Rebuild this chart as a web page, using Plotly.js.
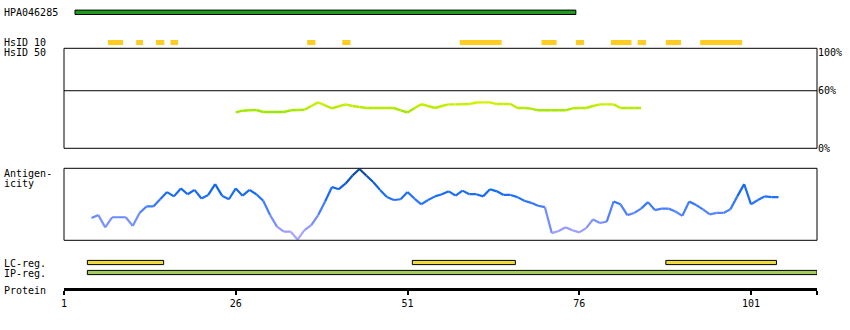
<!DOCTYPE html>
<html><head><meta charset="utf-8">
<script src="https://cdn.plot.ly/plotly-3.0.1.min.js"></script>
<style>html,body{margin:0;padding:0;background:#fff}#chart{width:850px;height:330px}</style>
</head><body><div id="chart"></div>
<script>
// ---------- data ----------
const axisEnd = 110.6;
const tickValues = [1, 26, 51, 76, 101];
const tickLabels = ['1', '26', '51', '76', '101'];

const antigenName = 'HPA046285';
const antigenStart = [2.6];
const antigenEnd = [75.5];

const hsid10Start = [7.4, 11.5, 14.4, 16.5, 36.4, 41.5, 58.6, 70.5, 75.5, 80.6, 84.5, 88.6, 93.6];
const hsid10End   = [9.6, 12.5, 15.6, 17.6, 37.6, 42.7, 64.7, 72.7, 76.7, 83.6, 85.7, 90.8, 99.7];

const hsid50Residue = [26,27,28,29,30,31,32,33,34,35,36,37,38,39,40,41,42,43,44,45,46,47,48,49,50,
  51,52,53,54,55,56,57,58,59,60,61,62,63,64,65,66,67,68,69,70,71,72,73,74,75,76,77,78,79,80,81,82,83,84,85];
const hsid50Value = [37.5,39.2,39.6,39.9,37.8,37.8,37.8,37.8,39.6,39.9,40.2,44.1,47.9,44.8,41.7,43.8,45.8,44.1,43.0,42.0,
  42.0,42.0,42.0,42.0,39.6,37.3,41.7,45.9,44.1,42.0,44.1,45.8,45.8,45.9,46.1,47.7,47.9,47.9,46.1,46.1,
  46.1,42.0,42.0,41.3,39.6,39.6,39.6,39.6,39.6,41.7,42.0,42.0,44.1,45.8,45.8,45.8,42.0,42.0,42.0,42.0];
const hsid50Ticks = [0, 60, 100];
const hsid50TickLabels = ['0%', '60%', '100%'];
const hsid50Threshold = 60;

const antigenicityResidue = [5,6,7,8,9,10,11,12,13,14,15,16,17,18,19,20,21,22,23,24,25,26,27,28,29,30,
  31,32,33,34,35,36,37,38,39,40,41,42,43,44,45,46,47,48,49,50,51,52,53,54,55,56,57,58,59,60,
  61,62,63,64,65,66,67,68,69,70,71,72,73,74,75,76,77,78,79,80,81,82,83,84,85,86,87,88,89,90,
  91,92,93,94,95,96,97,98,99,100,101,102,103,104,105];
const antigenicityValue = [0.31,0.35,0.18,0.32,0.32,0.32,0.20,0.38,0.47,0.47,0.57,0.67,0.61,0.72,0.64,0.70,0.58,0.63,0.78,0.62,0.57,
  0.72,0.62,0.70,0.64,0.55,0.35,0.19,0.12,0.12,0.01,0.14,0.21,0.35,0.54,0.74,0.71,0.79,0.90,0.99,0.90,
  0.81,0.70,0.60,0.56,0.57,0.67,0.58,0.50,0.56,0.61,0.64,0.68,0.62,0.69,0.64,0.64,0.61,0.71,0.68,0.63,
  0.63,0.60,0.55,0.52,0.48,0.46,0.10,0.13,0.18,0.14,0.11,0.17,0.29,0.24,0.26,0.54,0.50,0.35,0.38,0.44,
  0.53,0.42,0.44,0.44,0.40,0.34,0.54,0.49,0.43,0.36,0.38,0.38,0.43,0.61,0.78,0.50,0.56,0.61,0.60,0.60];

const lcStart = [4.4, 51.7, 88.6];
const lcEnd   = [15.5, 66.7, 104.7];
const ipStart = [4.4];
const ipEnd   = [110.6];

// ---------- helpers ----------
const W = 850, H = 330;
const FONT = {family: 'DejaVu Sans Mono, monospace', size: 10, color: '#000'};
function lerpColor(stops, v) {
  if (v <= stops[0][0]) return stops[0][1];
  for (let i = 1; i < stops.length; i++) {
    if (v <= stops[i][0]) {
      const [a, ca] = stops[i-1], [b, cb] = stops[i];
      const t = (v - a) / (b - a);
      return ca.map((c, k) => Math.round(c + (cb[k] - c) * t));
    }
  }
  return stops[stops.length-1][1];
}
const rgb = c => `rgb(${c[0]},${c[1]},${c[2]})`;
const antiStops = [[0,[184,170,255]],[0.2,[140,150,255]],[0.4,[80,130,255]],[0.55,[40,115,255]],[0.7,[16,104,240]],[0.85,[10,85,200]],[1,[8,64,140]]];
const hsidStops = [[37,[150,230,0]],[48,[215,240,0]]];

const traces = [];
function segments(xs, ys, yaxis, stops, width) {
  for (let i = 0; i < xs.length - 1; i++) {
    const m = (ys[i] + ys[i+1]) / 2;
    traces.push({type: 'scatter', mode: 'lines', x: [xs[i], xs[i+1]], y: [ys[i], ys[i+1]],
      xaxis: 'x', yaxis: yaxis, line: {color: rgb(lerpColor(stops, m)), width: width}, hoverinfo: 'skip'});
  }
}
function bars(starts, ends, yc, thick, fill, border) {
  traces.push({type: 'bar', orientation: 'h', base: starts, x: starts.map((s, i) => ends[i] - s),
    y: starts.map(() => yc), width: starts.map(() => thick), xaxis: 'x', yaxis: 'y3',
    marker: {color: fill, line: {color: '#000', width: border}}, hoverinfo: 'skip'});
}

segments(hsid50Residue, hsid50Value, 'y', hsidStops, 2.4);
segments(antigenicityResidue, antigenicityValue, 'y2', antiStops, 2.2);
bars(antigenStart, antigenEnd, 12.3, 4.4, '#1f9a1f', 1);
bars(hsid10Start, hsid10End, 42.5, 5, '#ffcc22', 0);
bars(lcStart, lcEnd, 262.5, 4.2, '#eedc3a', 1);
bars(ipStart, ipEnd, 272.5, 4.2, '#a4cc5c', 1);

const px = v => v / W, py = v => 1 - v / H;
function ann(text, x, y) {
  return {text: text, x: px(x), y: py(y), xref: 'paper', yref: 'paper', xanchor: 'left', yanchor: 'middle',
    showarrow: false, font: FONT, borderpad: 0};
}

const xDom = [64 / W, 817 / W];
const layout = {
  width: W, height: H, margin: {l: 0, r: 0, t: 0, b: 0, autoexpand: false},
  paper_bgcolor: '#fff', plot_bgcolor: 'rgba(0,0,0,0)', showlegend: false, barmode: 'overlay',
  xaxis: {domain: xDom, range: [1, axisEnd], anchor: 'free', position: py(289.3),
    showline: true, linewidth: 3, linecolor: '#000', ticks: 'outside', ticklen: 4, tickwidth: 2, tickcolor: '#000',
    tickvals: tickValues.concat([axisEnd]), ticktext: tickLabels.concat(['']), tickfont: FONT,
    showgrid: false, zeroline: false, fixedrange: true},
  yaxis: {domain: [py(148.3), py(48.3)], range: [0, 104.2], anchor: 'x', side: 'right',
    tickvals: hsid50Ticks, ticktext: hsid50TickLabels, ticks: '', tickfont: FONT,
    showgrid: false, zeroline: false, showline: false},
  yaxis2: {domain: [py(240.3), py(168.3)], range: [0, 1], anchor: 'x', visible: false},
  yaxis3: {domain: [0, 1], range: [H, 0], anchor: 'free', visible: false},
  shapes: [
    {type: 'rect', xref: 'paper', yref: 'y domain', x0: xDom[0], x1: xDom[1], y0: 0, y1: 1, line: {color: '#000', width: 1}},
    {type: 'line', xref: 'paper', yref: 'y', x0: xDom[0], x1: xDom[1], y0: hsid50Threshold, y1: hsid50Threshold, line: {color: '#000', width: 1}},
    {type: 'rect', xref: 'paper', yref: 'y2 domain', x0: xDom[0], x1: xDom[1], y0: 0, y1: 1, line: {color: '#000', width: 1}}
  ],
  annotations: [
    ann(antigenName, 2.7, 12), ann('HsID 10', 2.7, 42.3), ann('HsID 50', 2.7, 52.3),
    ann('Antigen-', 2.7, 173.3), ann('icity', 2.7, 183.3),
    ann('LC-reg.', 2.7, 263.3), ann('IP-reg.', 2.7, 273.3), ann('Protein', 2.7, 290)
  ]
};
Plotly.newPlot('chart', traces, layout, {staticPlot: true, displayModeBar: false});
</script></body></html>
